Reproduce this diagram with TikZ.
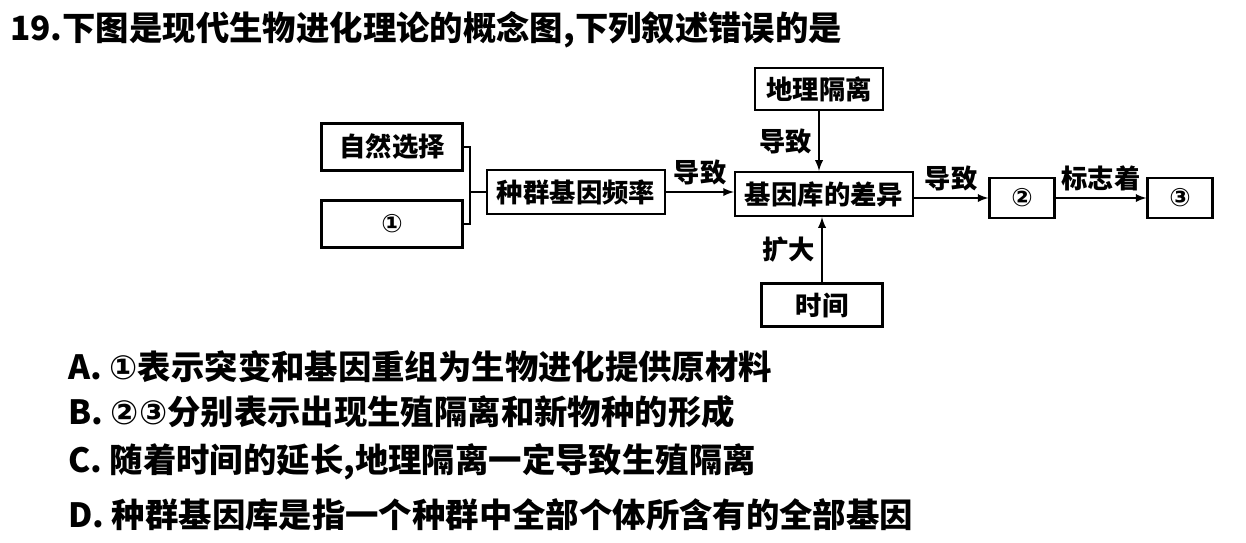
\documentclass[tikz,border=0pt]{standalone}
\usepackage{fontspec}
\setmainfont{Noto Sans CJK SC}
\newfontfamily\symfont{DejaVu Sans}
\usetikzlibrary{positioning}

\tikzset{
  conceptbox/.style={draw, line width=1.2pt, inner sep=0pt, font=\fontsize{15}{17}\selectfont\bfseries},
  linkarrow/.style={->, >=latex, line width=1.1pt},
  linklabel/.style={font=\fontsize{15}{17}\selectfont\bfseries},
  optionline/.style={anchor=west, font=\fontsize{19}{21}\selectfont\bfseries}
}

\begin{document}
\begin{tikzpicture}[x=0.02cm, y=-0.02cm]
  \useasboundingbox (0,0) rectangle (1246,542);

  \node[optionline] (title) at (4,30) {19.下图是现代生物进化理论的概念图,下列叙述错误的是};

  \node[conceptbox, minimum width=2.82cm, minimum height=0.94cm] (select) at (392,147) {自然选择};
  \node[conceptbox, minimum width=2.82cm, minimum height=0.94cm] (one) at (392,224) {{\symfont\Large ①}};
  \node[conceptbox, minimum width=3.56cm, minimum height=0.88cm] (freq) at (576,192) {种群基因频率};
  \node[conceptbox, minimum width=3.56cm, minimum height=0.88cm] (pool) at (824,194) {基因库的差异};
  \node[conceptbox, minimum width=2.56cm, minimum height=0.84cm] (geo) at (819,89) {地理隔离};
  \node[conceptbox, minimum width=2.42cm, minimum height=0.86cm] (time) at (822,305) {时间};
  \node[conceptbox, minimum width=1.3cm, minimum height=0.8cm] (two) at (1022,198) {{\symfont\Large ②}};
  \node[conceptbox, minimum width=1.3cm, minimum height=0.8cm] (three) at (1180,198) {{\symfont\Large ③}};

  % bracket joining the two causes
  \coordinate (join) at (470,192);
  \draw[line width=1.1pt] (select.east) -| (470,224) -- (one.east);
  \draw[line width=1.1pt] (join) -- (freq.west);

  \draw[linkarrow] (freq.east) -- node[linklabel, above] {导致} (pool.west |- freq.east);
  \draw[linkarrow] (pool.east |- two.west) -- node[linklabel, above] {导致} (two.west);
  \draw[linkarrow] (two) -- node[linklabel, above] {标志着} (three);
  \draw[linkarrow] (geo) -- node[linklabel, left] {导致} (geo |- pool.north);
  \draw[linkarrow] (time) -- node[linklabel, left] {扩大} (time |- pool.south);

  \node[optionline] (optA) at (62,367) {A. {\symfont ①}表示突变和基因重组为生物进化提供原材料};
  \node[optionline] (optB) at (62,412) {B. {\symfont ②③}分别表示出现生殖隔离和新物种的形成};
  \node[optionline] (optC) at (62,462) {C. 随着时间的延长,地理隔离一定导致生殖隔离};
  \node[optionline] (optD) at (62,515) {D. 种群基因库是指一个种群中全部个体所含有的全部基因};
\end{tikzpicture}
\end{document}
